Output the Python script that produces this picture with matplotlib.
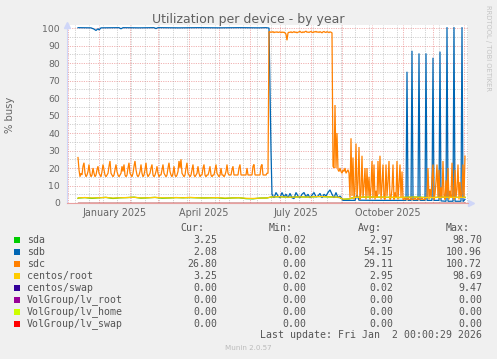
import numpy as np
import matplotlib

matplotlib.use("Agg")
import matplotlib.pyplot as plt
from matplotlib.patches import Rectangle
from datetime import date

W, H = 497, 359
ORIGIN = date(2025, 1, 1)

# sdc: one value per day, first sample on day -21 (days counted from 2025-01-01)
SDC_FIRST_DAY = -21
sdc = (
    [26, 19, 15, 17, 16, 21, 23, 17, 15, 16, 18, 22, 17, 15, 16, 20, 17, 15, 16, 19, 21]
    + [17, 16, 15, 18, 22, 19, 16, 15, 16, 17, 21, 24, 17, 16, 15, 16, 19, 22, 18, 16, 15]
    + [16, 17, 21, 18, 22, 16, 15, 16, 20, 23, 17, 16, 15, 17, 21, 24, 19, 16, 15, 16, 18]
    + [22, 17, 15, 16, 19, 23, 17, 15, 16, 17, 20, 22, 16, 15, 16, 18, 21, 17, 15, 16, 16]
    + [19, 22, 17, 16, 15, 16, 20, 23, 18, 16, 15, 17, 21, 16, 15, 16, 18, 24, 20, 25, 17]
    + [16, 15, 16, 20, 23, 17, 16, 15, 16, 19, 22, 16, 15, 16, 17, 21, 17, 15, 16, 16, 20]
    + [22, 16, 15, 16, 16, 18, 21, 16, 15, 16, 16, 19, 22, 17, 16, 15, 16, 20, 16, 16, 15]
    + [16, 18, 22, 17, 16, 16, 16, 19, 21, 16, 16, 16, 16, 16, 20, 22, 16, 16, 16, 16, 16]
    + [16, 20, 16, 16, 16, 16, 16, 21, 22, 16, 16, 16, 16, 16, 16, 21, 22, 16, 16, 16, 16]
    + [17]
    # busy period
    + [17, 98, 97.5, 97.8, 97.6, 97.9, 97.4, 97.7, 97.6, 97.8, 97.5]
    + [97.6, 97.8, 97.4, 97.7, 97.5, 97.6, 97.2, 96.5, 93, 97.2]
    + [97.6, 97.5, 97.8, 97.4, 97.6, 97.9, 97.5, 97.7, 97.3, 97.6]
    + [97.8, 98.1, 97.6, 97.4, 97.8, 97.5, 97.9, 98.2, 97.6, 97.7]
    + [97.5, 97.8, 98.0, 97.6, 97.4, 97.9, 97.7, 98.1, 97.6, 97.8]
    + [97.5, 97.9, 97.6, 97.3, 97.8, 98.0, 97.6, 97.5, 97.9, 97.7]
    + [97.4, 97.8, 97.6, 97.2]
    # after the drop
    + [21, 20, 56, 20, 40, 19, 18, 20, 18, 17, 19, 18, 20, 17, 18, 19, 17]
    + [3, 37, 4, 26, 2, 8, 34, 3, 12, 32, 2, 6, 27, 3, 10, 20, 2, 20, 4, 15, 2, 9, 24, 3, 22, 2, 7]
    + [3, 24, 5, 27, 2, 10, 22, 3, 2, 22, 4, 12, 24, 2, 3, 8, 22, 2, 6, 3, 24, 2, 11, 22, 3, 18, 2]
    + [2, 3, 2, 2, 3, 2, 2, 3, 2, 2, 2, 3, 2, 2, 3, 2, 2, 2, 3, 2, 2, 2, 3]
    + [3, 20, 2, 8, 3, 14, 22, 2, 5, 12, 22, 3, 19, 2, 9, 3, 24, 4, 2, 13]
    + [3, 20, 2, 7, 3, 23, 4, 2, 19, 3, 8, 22, 2, 12, 3, 5, 22, 3, 26.8]
)

sdb_days = [-21, -8, -5, -3, -1, 0, 2, 20, 22, 24, 40, 55, 57, 59, 80, 100, 120, 140, 160, 167,
            170, 171, 172, 173, 175, 177, 179, 181, 183, 185, 187, 189, 191, 193, 195, 197, 199,
            201, 203, 205, 207, 209, 211, 213, 215, 217, 219, 221, 223, 225, 227, 229, 231, 233,
            235, 237, 239, 241, 243, 244, 250, 256, 258, 260, 280, 300,
            307, 308, 309, 312, 313, 314, 319, 320, 321, 326, 327, 328, 333, 334, 335,
            340, 341, 342, 347, 348, 349, 354, 355, 356, 362, 363, 364, 366]
sdb = [100.2, 100.1, 99.4, 98.6, 99.6, 98.9, 100.1, 100.2, 99.6, 100.2, 100.1, 100.2, 99.7, 100.2,
       100.1, 100.2, 100.1, 100.2, 100.1, 100.2,
       100, 65, 30, 5, 3, 6, 4, 3, 6, 3.5, 5, 3, 5.5, 3, 2.5, 6, 4,
       3, 5, 6, 3.5, 5, 3, 4.5, 6, 3.5, 4, 5.5, 3, 5, 4, 6, 7.5, 5,
       3, 6, 3, 4, 2.5, 1.5, 1.5, 1.5, 4.5, 1.6, 1.5, 1.5,
       1.5, 75, 1.5, 1.5, 87, 1.5, 1.5, 85.5, 1.5, 1.5, 85.5, 1.5, 1.5, 83, 1.5,
       1.5, 86.5, 1.2, 1, 100.5, 1, 1, 100.5, 1, 1, 100.5, 0.8, 2.08]

root_days = [-21, -20, -14, -7, 0, 7, 14, 21, 28, 35, 42, 49, 56, 63, 70, 77, 84, 91, 98, 105,
             112, 119, 126, 133, 140, 147, 154, 161, 168, 172, 180, 190, 200, 210, 220, 230,
             240, 244, 250, 255, 270, 285, 300, 315, 330, 345, 360, 366]
root = [2.7, 3.0, 3.1, 2.9, 3.0, 3.2, 2.8, 3.0, 3.1, 3.3, 2.9, 3.0, 3.2, 3.0, 2.9, 3.1, 3.0, 3.2,
        3.0, 2.9, 3.0, 3.1, 2.8, 2.9, 3.0, 2.7, 2.6, 2.8, 2.9, 3.4, 3.6, 3.3, 3.5, 3.4, 3.7, 3.5,
        3.3, 2.2, 2.3, 3.2, 3.4, 3.3, 3.2, 3.4, 3.1, 3.3, 3.2, 3.25]
sda = [2.7, 2.9, 3.1, 2.7, 3.0, 3.2, 2.6, 3.0, 3.1, 3.3, 2.8, 3.0, 3.2, 2.8, 2.9, 3.1, 3.0, 3.1,
       3.0, 2.9, 3.0, 3.0, 2.6, 2.9, 3.0, 2.5, 2.4, 2.8, 2.9, 3.4, 3.6, 3.3, 3.5, 3.4, 3.7, 3.5,
       3.3, 2.1, 2.3, 3.2, 3.4, 3.3, 3.1, 3.4, 3.1, 3.3, 3.2, 3.25]

zero_days = [-21, 366]
zero = [0.0, 0.0]

labels = ["sda", "sdb", "sdc", "centos/root", "centos/swap",
          "VolGroup/lv_root", "VolGroup/lv_home", "VolGroup/lv_swap"]
colors = ["#00CC00", "#0066B3", "#FF8000", "#FFCC00", "#330099", "#990099", "#CCFF00", "#FF0000"]
cur = ["3.25", "2.08", "26.80", "3.25", "0.00", "0.00", "0.00", "0.00"]
mins = ["0.02", "0.00", "0.00", "0.02", "0.00", "0.00", "0.00", "0.00"]
avgs = ["2.97", "54.15", "29.11", "2.95", "0.02", "0.00", "0.00", "0.00"]
maxs = ["98.70", "100.96", "100.72", "98.69", "9.47", "0.00", "0.00", "0.00"]

y_ticks = list(range(0, 101, 10))
quarter_labels = ["January 2025", "April 2025", "July 2025", "October 2025"]
quarter_months = [(2025, 1), (2025, 4), (2025, 7), (2025, 10)]

FONT = "#666666"
MGRID = (0.9, 0.45, 0.45, 0.55)
GRID = (0.6, 0.6, 0.6, 0.45)
AXIS = "#CFD6F8"


def fx(px):
    return px / W


def fy(py):
    return 1 - py / H


def day_of(y, m, d=1):
    return (date(y, m, d) - ORIGIN).days


fig = plt.figure(figsize=(W / 100, H / 100), dpi=100)
fig.patch.set_facecolor("#F0F0F0")

x0, x1 = 67, 468
ytop, ybot = 25.4, 203
ax = fig.add_axes([fx(x0), fy(ybot), (x1 - x0) / W, (ybot - ytop) / H])
ax.set_facecolor("white")
ax.set_xlim(-32, 369)
ax.set_ylim(0, 101.5)

# grid
for v in range(5, 100, 10):
    ax.axhline(v, color=GRID, lw=0.7, ls=(0, (1.2, 1.2)), zorder=1)
for v in y_ticks:
    ax.axhline(v, color=MGRID, lw=0.7, ls=(0, (1.2, 1.2)), zorder=1)
for d in range(-24, 369, 14):
    ax.axvline(d, color=GRID, lw=0.7, ls=(0, (1.2, 1.2)), zorder=1)
month_starts = [day_of(2024, 12)] + [day_of(2025, m) for m in range(1, 13)] + [day_of(2026, 1)]
for d in month_starts:
    ax.axvline(d, color=MGRID, lw=0.7, ls=(0, (1.2, 1.2)), zorder=1)

# series, in munin draw order
sdc_days = np.arange(SDC_FIRST_DAY, SDC_FIRST_DAY + len(sdc))
series = [
    (root_days, sda), (sdb_days, sdb), (sdc_days, sdc), (root_days, root),
    (zero_days, zero), (zero_days, zero), (zero_days, zero), (zero_days, zero),
]
for (days, vals), col in zip(series, colors):
    ax.plot(days, vals, color=col, lw=0.9, zorder=3, solid_joinstyle="miter")

for s in ["top", "right"]:
    ax.spines[s].set_visible(False)
ax.spines["left"].set_color(AXIS)
ax.spines["left"].set_linewidth(0.8)
ax.spines["bottom"].set_color("#E8A0A0")
ax.spines["bottom"].set_linewidth(0.8)

ax.set_yticks(y_ticks)
ax.set_yticklabels([str(v) for v in y_ticks])
ax.tick_params(axis="y", length=0, pad=5, labelsize=6.7, labelcolor=FONT)

mid = []
for y, m in quarter_months:
    nm = date(y + (m // 12), m % 12 + 1, 1)
    mid.append((day_of(y, m) + (nm - ORIGIN).days) / 2)
ax.set_xticks(mid)
ax.set_xticklabels(quarter_labels)
ax.tick_params(axis="x", length=0, pad=3.5, labelsize=6.9, labelcolor=FONT)

# axis arrows
ax.plot([0], [1.005], transform=ax.transAxes, marker="^", ms=4, color=AXIS, clip_on=False)
ax.plot([1.007], [0], transform=ax.transAxes, marker=">", ms=4, color=AXIS, clip_on=False)

fig.text(fx(248), fy(19), "Utilization per device - by year", ha="center", va="center",
         fontsize=9.0, color="#606060")
fig.text(fx(10), fy(115), "% busy", rotation=90, ha="center", va="center",
         fontsize=7.2, color=FONT)
fig.text(fx(488), fy(5), "RRDTOOL / TOBI OETIKER", rotation=270, ha="center", va="top",
         fontsize=4.9, color="#C4C4C4")

# legend
mono = "DejaVu Sans Mono"
lfs = 7.1
lcol = "#555555"
for xr, head in zip([204, 293, 382, 470], ["Cur:", "Min:", "Avg:", "Max:"]):
    fig.text(fx(xr), fy(228), head, ha="right", va="center", family=mono, fontsize=lfs, color=lcol)
for i, name in enumerate(labels):
    yc = 240 + 12 * i
    fig.add_artist(Rectangle((fx(14), fy(yc + 2.7)), 5.5 / W, 5.5 / H, transform=fig.transFigure,
                             facecolor=colors[i], edgecolor="none"))
    fig.text(fx(27), fy(yc), name, ha="left", va="center", family=mono, fontsize=lfs, color=lcol)
    for xr, col in zip([217, 306, 393, 482], [cur, mins, avgs, maxs]):
        fig.text(fx(xr), fy(yc), col[i], ha="right", va="center", family=mono, fontsize=lfs,
                 color=lcol)
fig.text(fx(482), fy(335), "Last update: Fri Jan  2 00:00:29 2026", ha="right", va="center",
         family=mono, fontsize=lfs, color=lcol)
fig.text(fx(248), fy(348), "Munin 2.0.57", ha="center", va="center", fontsize=5.1, color="#BBBBBB")

fig.savefig("out.png", dpi=100, facecolor=fig.get_facecolor())
